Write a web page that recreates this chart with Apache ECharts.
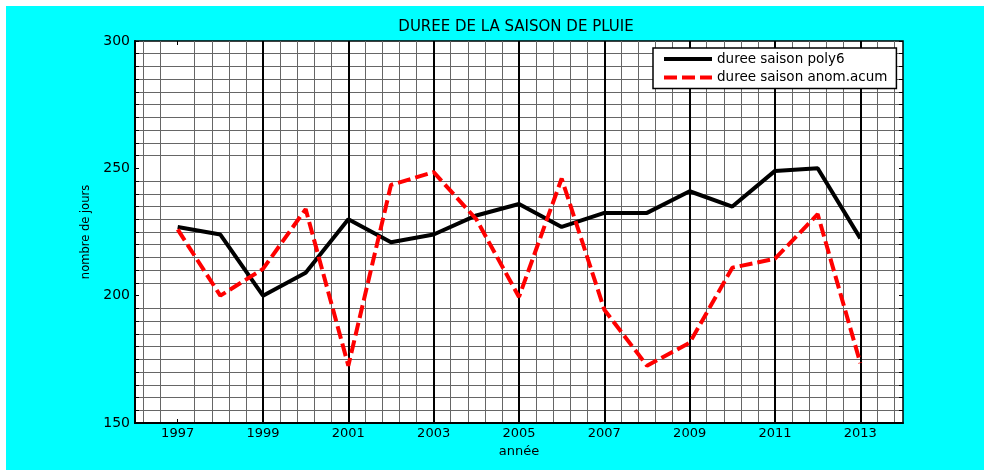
<!DOCTYPE html>
<html lang="fr">

<head>
    <meta charset="UTF-8">
    <title>Duree de la saison de pluie</title>
    <script src="https://cdn.jsdelivr.net/npm/echarts@6/dist/echarts.min.js"></script>
    <style>
        html,
        body {
            margin: 0;
            padding: 0;
            background: #fff;
        }

        #myEchart {
            position: absolute;
            left: 6px;
            top: 6px;
            width: 978px;
            height: 464px;
            background: #00ffff;
        }
    </style>
</head>

<body>
    <div id="myEchart"></div>
    <script>
        var years = [1997, 1998, 1999, 2000, 2001, 2002, 2003, 2004, 2005, 2006, 2007, 2008, 2009, 2010, 2011, 2012, 2013];
        var dureePoly6 = [227, 224, 200, 209, 230, 221, 224, 231.5, 236, 227, 232.5, 232.5, 241, 235, 249, 250, 222.5];
        var dureeAnom = [226, 200, 210.5, 234, 172.5, 243.5, 248.5, 230, 199.5, 246, 194.5, 172.5, 181.5, 211, 214.5, 232, 173.5];
        var xTickYears = [1997, 1999, 2001, 2003, 2005, 2007, 2009, 2011, 2013];
        var yTickValues = [150, 200, 250, 300];
        var seriesNames = ['duree saison poly6', 'duree saison anom.acum'];

        var font = 'DejaVu Sans';
        var gridGrey = '#666';

        // minor grid every 0.4 year starting at 1996.2 (ticks every 0.2, every other one drawn), odd years left empty
        var minorColors = [];
        for (var i = 0; i < 10; i++) {
            minorColors.push(i % 2 === 1 && i !== 5 ? gridGrey : 'rgba(0,0,0,0)');
        }
        // thick lines on odd years (none on 1997, as in the original)
        var majorColors = [];
        for (var y = 1996; y <= 2014; y++) {
            majorColors.push(y % 2 === 1 && y !== 1997 ? '#000' : 'rgba(0,0,0,0)');
        }
        // horizontal grid every 5 days, nothing on the labelled values
        var hColors = [];
        for (var j = 0; j < 10; j++) {
            hColors.push(j === 0 ? 'rgba(0,0,0,0)' : gridGrey);
        }

        function pairs(values) {
            return years.map(function (yr, k) { return [yr, values[k]]; });
        }

        var hidden = { show: false };
        var myChart = echarts.init(document.getElementById('myEchart'));
        var option = {
            animation: false,
            title: {
                text: 'DUREE DE LA SAISON DE PLUIE',
                left: 510,
                top: 14,
                padding: 0,
                textAlign: 'center',
                textStyle: { fontFamily: font, fontSize: 15, fontWeight: 'normal', color: '#000' }
            },
            legend: {
                orient: 'vertical',
                left: 647,
                top: 42,
                padding: [4, 9, 4, 9],
                itemWidth: 48,
                itemHeight: 4,
                itemGap: 4.4,
                backgroundColor: '#fff',
                borderColor: '#000',
                borderWidth: 1.5,
                itemStyle: { opacity: 0 },
                lineStyle: { width: 4 },
                textStyle: { fontFamily: font, fontSize: 13.5, color: '#000', lineHeight: 14 },
                data: seriesNames
            },
            grid: {
                left: 129,
                top: 35,
                right: 81,
                bottom: 47,
                show: true,
                backgroundColor: '#fff',
                borderColor: '#000',
                borderWidth: 1.5
            },
            xAxis: [
                {
                    type: 'value',
                    min: 1996,
                    max: 2014,
                    interval: 1,
                    name: 'année',
                    nameLocation: 'middle',
                    nameGap: 21,
                    nameTextStyle: { fontFamily: font, fontSize: 13, color: '#000' },
                    axisLine: { show: true, onZero: false, lineStyle: { color: '#000', width: 2 } },
                    axisTick: { inside: true, length: 4, customValues: xTickYears, lineStyle: { color: '#000' } },
                    axisLabel: {
                        customValues: xTickYears,
                        margin: 4,
                        fontFamily: font,
                        fontSize: 13,
                        color: '#000',
                        formatter: function (v) { return v % 2 === 1 ? String(v) : ''; }
                    },
                    splitLine: hidden
                },
                {
                    type: 'value',
                    min: 1996,
                    max: 2014,
                    interval: 0.2,
                    axisLine: hidden,
                    axisTick: hidden,
                    axisLabel: hidden,
                    splitLine: { show: true, lineStyle: { color: minorColors, width: 1 } }
                },
                {
                    type: 'value',
                    min: 1996,
                    max: 2014,
                    interval: 1,
                    axisLine: hidden,
                    axisTick: hidden,
                    axisLabel: hidden,
                    splitLine: { show: true, lineStyle: { color: majorColors, width: 2 } }
                },
                {
                    type: 'value',
                    position: 'top',
                    min: 1996,
                    max: 2014,
                    interval: 1,
                    axisLine: hidden,
                    axisTick: { inside: true, length: 4, customValues: xTickYears, lineStyle: { color: '#000' } },
                    axisLabel: hidden,
                    splitLine: hidden
                }
            ],
            yAxis: [
                {
                    type: 'value',
                    min: 150,
                    max: 300,
                    interval: 5,
                    name: 'nombre de jours',
                    nameLocation: 'middle',
                    nameGap: 41,
                    nameRotate: 90,
                    nameTextStyle: { fontFamily: font, fontSize: 11.5, color: '#000' },
                    axisLine: { show: true, onZero: false, lineStyle: { color: '#000', width: 2 } },
                    axisTick: { inside: true, length: 4, lineStyle: { color: '#000' } },
                    axisLabel: {
                        margin: 5,
                        fontFamily: font,
                        fontSize: 14,
                        color: '#000',
                        formatter: function (v) { return yTickValues.indexOf(v) >= 0 ? String(v) : ''; }
                    },
                    splitLine: { show: true, lineStyle: { color: hColors, width: 1 } }
                },
                {
                    type: 'value',
                    position: 'right',
                    min: 150,
                    max: 300,
                    interval: 5,
                    axisLine: hidden,
                    axisTick: { inside: true, length: 4, lineStyle: { color: '#000' } },
                    axisLabel: hidden,
                    splitLine: hidden
                }
            ],
            series: [
                {
                    name: seriesNames[0],
                    type: 'line',
                    xAxisIndex: 0,
                    yAxisIndex: 0,
                    data: pairs(dureePoly6),
                    symbol: 'none',
                    z: 3,
                    itemStyle: { color: '#000' },
                    lineStyle: { color: '#000', width: 4 }
                },
                {
                    name: seriesNames[1],
                    type: 'line',
                    xAxisIndex: 0,
                    yAxisIndex: 0,
                    data: pairs(dureeAnom),
                    symbol: 'none',
                    z: 4,
                    itemStyle: { color: '#ff0000' },
                    lineStyle: { color: '#ff0000', width: 4, type: [13, 5] }
                }
            ]
        };
        myChart.setOption(option);
    </script>
</body>

</html>
